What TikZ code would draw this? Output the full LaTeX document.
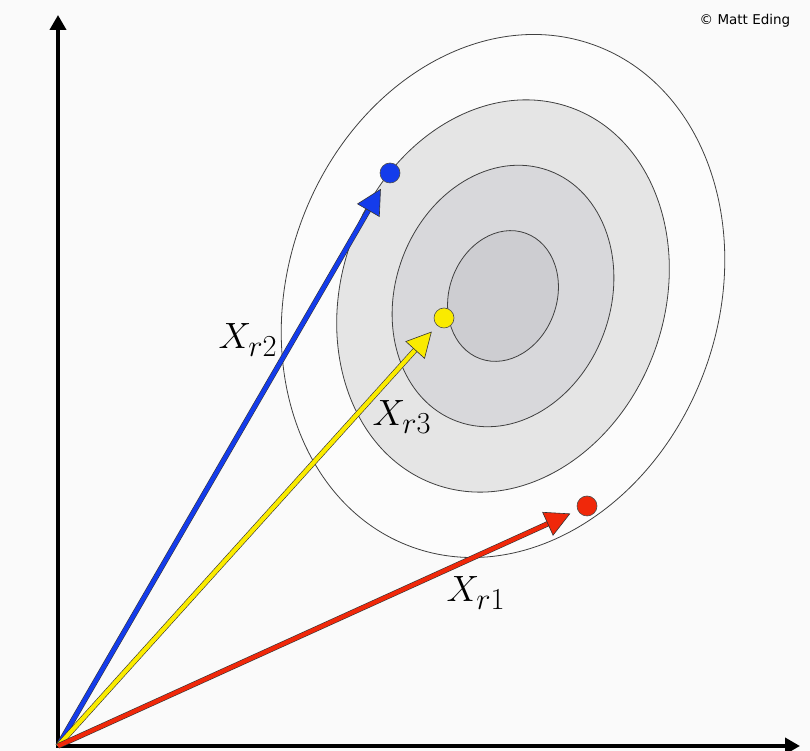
\documentclass[tikz,border=0pt]{standalone}
\usepackage{fontspec}
\newfontfamily\credfont{DejaVu Sans}
\usetikzlibrary{arrows.meta}
\definecolor{vecblue}{RGB}{20,60,235}
\definecolor{vecyellow}{RGB}{250,235,0}
\definecolor{vecred}{RGB}{240,40,10}
\definecolor{ring0}{RGB}{252,252,252}
\definecolor{ring1}{RGB}{229,229,229}
\definecolor{ring2}{RGB}{216,216,219}
\definecolor{ring3}{RGB}{205,205,209}

\begin{document}
\begin{tikzpicture}[x=1pt, y=1pt,
    axis/.style={line width=4pt, {Triangle[length=15pt,width=16pt]}-{Triangle[length=15pt,width=16pt]}},
    contour/.style={draw=black!75, line width=0.8pt},
    vec/.style={line width=4.2pt, draw=#1, shorten >=8pt,
      -{Triangle[length=25pt,width=26pt,fill=#1,color=black!80,line width=0.6pt]},
      preaction={draw=black!80, line width=5.4pt, arrows=-, shorten >=29pt}},
    dot/.style={circle, minimum size=20pt, inner sep=0pt, draw=black!70, line width=0.6pt, fill=#1},
    lbl/.style={font=\Huge, scale=1.47, transform shape}]
  \path[use as bounding box, fill=black!2] (0,0) rectangle (810,751);
  % contours
  \begin{scope}[shift={(503,455)}, rotate=-20]
    \foreach \k/\c in {4/ring0, 3/ring1, 2/ring2, 1/ring3}
      \draw[contour, fill=\c] (0,0) ellipse [x radius=53.75*\k, y radius=66.75*\k];
  \end{scope}
  % axes
  \coordinate (O) at (58,5);
  \coordinate (ytop) at (58,736);
  \coordinate (xend) at (800,5);
  \draw[axis] (ytop) -- (O) -- (xend);
  % points
  \node[dot=vecblue] (pb) at (390,578) {};
  \node[dot=vecyellow] (py) at (444,433) {};
  \node[dot=vecred] (pr) at (587,245) {};
  % vectors
  \draw[vec=vecblue] (O) -- (pb);
  \draw[vec=vecyellow] (O) -- (py);
  \draw[vec=vecred] (O) -- (pr);
  \node[lbl] (lr2) at (248,411) {$X_{r2}$};
  \node[lbl] (lr3) at (402,334) {$X_{r3}$};
  \node[lbl] (lr1) at (476,158) {$X_{r1}$};
  \node[font=\credfont\fontsize{13.5}{16}\selectfont] (cred) at (745,730) {© Matt Eding};
\end{tikzpicture}
\end{document}
